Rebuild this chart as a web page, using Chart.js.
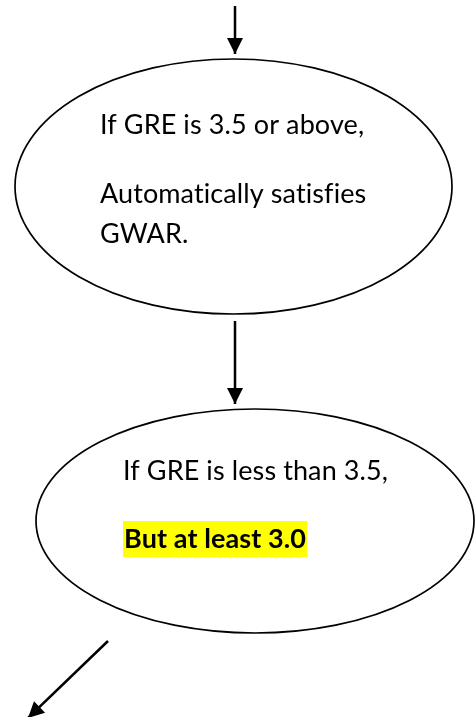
<!DOCTYPE html>
<html>
<head>
<meta charset="utf-8">
<script src="https://cdn.jsdelivr.net/npm/chart.js@4.4.1/dist/chart.umd.min.js"></script>
<style>
    html, body { margin: 0; padding: 0; background: #ffffff; }
    #flow { display: block; }
</style>
</head>
<body>
<canvas id="flow" width="476" height="717"></canvas>
<script>
// arrows: start and tip points (page units)
const arrowStartX = [235, 235, 108];
const arrowStartY = [6, 321, 641];
const arrowTipX = [235, 235, 28];
const arrowTipY = [54, 404, 718];

// ellipses (nodes)
const nodeCx = [233.5, 255];
const nodeCy = [186.5, 521];
const nodeRx = [218.5, 219];
const nodeRy = [127.5, 112];

// texts in the nodes
const nodeTexts = [
    ["If GRE is 3.5 or above,", "Automatically satisfies", "GWAR."],
    ["If GRE is less than 3.5,", "But at least 3.0"]
];
const textX = [[100, 100, 100], [123, 123]];
const textY = [[134, 203, 243], [480, 548]];
const textBold = [[false, false, false], [false, true]];
const textMark = [[false, false, false], [false, true]];

function buildArrowDatasets() {
    var sets = [];
    for (var i = 0; i < arrowStartX.length; i++) {
        sets.push({
            label: "arrow" + i,
            data: [
                { x: arrowStartX[i], y: arrowStartY[i] },
                { x: arrowTipX[i], y: arrowTipY[i] }
            ],
            showLine: true,
            borderColor: "#000000",
            borderWidth: 2.5,
            pointRadius: 0,
            fill: false
        });
    }
    return sets;
}

const nodesPlugin = {
    id: "nodes",
    beforeDatasetsDraw(chart) {
        const ctx = chart.ctx;
        const sx = chart.scales.x, sy = chart.scales.y;
        ctx.save();
        for (var i = 0; i < nodeCx.length; i++) {
            const cx = sx.getPixelForValue(nodeCx[i]);
            const cy = sy.getPixelForValue(nodeCy[i]);
            const rx = Math.abs(sx.getPixelForValue(nodeCx[i] + nodeRx[i]) - cx);
            const ry = Math.abs(sy.getPixelForValue(nodeCy[i] + nodeRy[i]) - cy);
            ctx.beginPath();
            ctx.ellipse(cx, cy, rx, ry, 0, 0, Math.PI * 2);
            ctx.lineWidth = 1.7;
            ctx.strokeStyle = "#000000";
            ctx.stroke();
        }
        // texts
        ctx.textBaseline = "alphabetic";
        ctx.textAlign = "left";
        if ("letterSpacing" in ctx) ctx.letterSpacing = "0.1px"; // no ti/fi ligatures
        for (var n = 0; n < nodeTexts.length; n++) {
            for (var k = 0; k < nodeTexts[n].length; k++) {
                const tx = sx.getPixelForValue(textX[n][k]);
                const ty = sy.getPixelForValue(textY[n][k]);
                ctx.font = (textBold[n][k] ? "bold " : "") + "27px Lato";
                const w = ctx.measureText(nodeTexts[n][k]).width;
                if (textMark[n][k]) {
                    ctx.fillStyle = "#ffff00";
                    ctx.fillRect(tx, ty - 27, w + 2, 36);
                }
                ctx.fillStyle = "#000000";
                ctx.fillText(nodeTexts[n][k], tx + (textMark[n][k] ? 1 : 0), ty);
            }
        }
        ctx.restore();
    },
    afterDatasetsDraw(chart) {
        // arrow heads at the last point of each line
        const ctx = chart.ctx;
        ctx.save();
        chart.data.datasets.forEach((ds, i) => {
            const pts = chart.getDatasetMeta(i).data;
            const a = pts[0], b = pts[pts.length - 1];
            const ang = Math.atan2(b.y - a.y, b.x - a.x);
            const len = 16, half = 8;
            ctx.beginPath();
            ctx.moveTo(b.x, b.y);
            ctx.lineTo(b.x - len * Math.cos(ang) + half * Math.sin(ang), b.y - len * Math.sin(ang) - half * Math.cos(ang));
            ctx.lineTo(b.x - len * Math.cos(ang) - half * Math.sin(ang), b.y - len * Math.sin(ang) + half * Math.cos(ang));
            ctx.closePath();
            ctx.fillStyle = "#000000";
            ctx.fill();
        });
        ctx.restore();
    }
};

var ctx = document.getElementById("flow").getContext("2d");
new Chart(ctx, {
    type: "scatter",
    data: { datasets: buildArrowDatasets() },
    options: {
        responsive: false,
        animation: false,
        layout: { padding: 0 },
        scales: {
            x: { type: "linear", min: 0, max: 476, display: false },
            y: { type: "linear", min: 0, max: 717, reverse: true, display: false }
        },
        plugins: {
            legend: { display: false },
            tooltip: { enabled: false }
        }
    },
    plugins: [nodesPlugin]
});
</script>
</body>
</html>
